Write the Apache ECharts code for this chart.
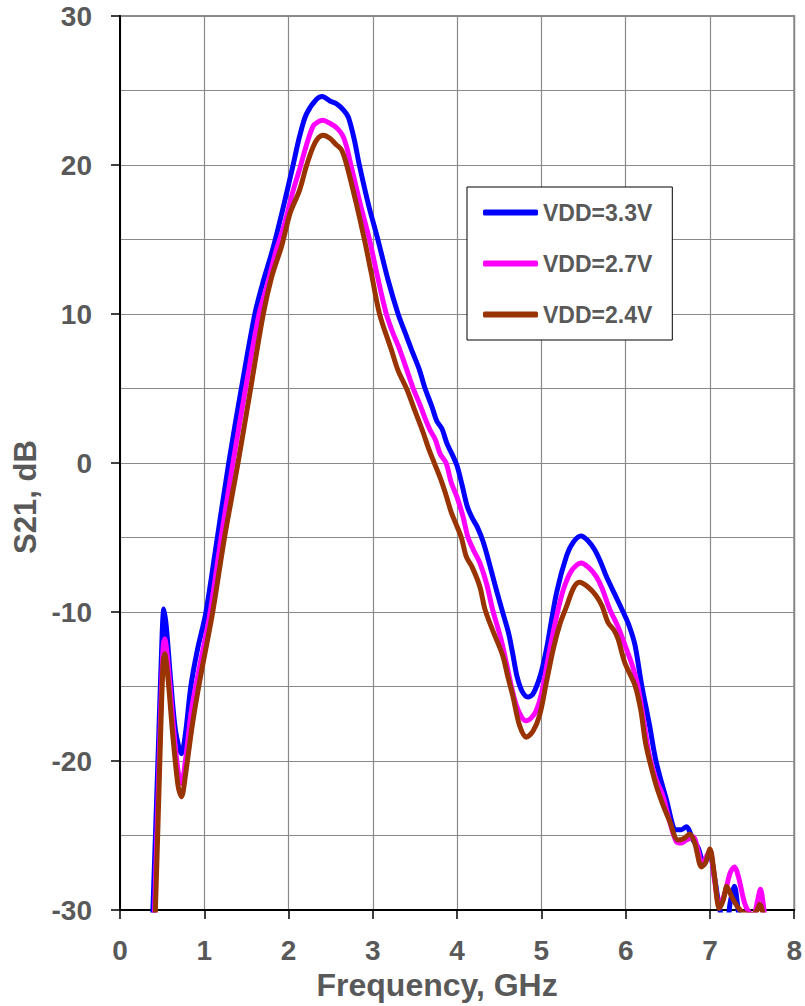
<!DOCTYPE html>
<html>
<head>
<meta charset="utf-8">
<script src="https://cdn.jsdelivr.net/npm/echarts@6/dist/echarts.min.js"></script>
<style>
  html, body { margin: 0; padding: 0; background: #fff; }
  #chart { width: 805px; height: 1006px; }
</style>
</head>
<body>
<div id="chart"></div>
<script type="text/javascript">
    // legend names
    var names = ['VDD=3.3V', 'VDD=2.7V', 'VDD=2.4V'];
    var colors = ['#0000FF', '#FF00FF', '#993300'];

    // VDD=3.3V
    var f33 = [0.36,0.39,0.45,0.50,0.52,0.55,0.60,0.66,0.73,0.78,
        0.84,0.92,1.02,1.155,1.29,1.44,1.60,1.70,1.81,1.93,
        2.05,2.13,2.21,2.33,2.40,2.49,2.57,2.65,2.71,2.78,
        2.84,2.95,3.06,3.18,3.30,3.38,3.46,3.55,3.62,3.70,
        3.76,3.82,3.88,3.94,4.00,4.06,4.12,4.18,4.24,4.31,
        4.39,4.47,4.54,4.61,4.66,4.71,4.77,4.84,4.90,4.99,
        5.06,5.18,5.30,5.38,5.47,5.55,5.63,5.70,5.77,5.87,
        5.97,6.04,6.11,6.19,6.28,6.36,6.48,6.60,6.66,6.72,
        6.80,6.86,6.92,6.97,7.00,7.06,7.13,7.20,7.24,7.29,
        7.34,7.40];
    var s33 = [-34,-30,-20,-11.5,-9.8,-11,-14.5,-18,-19.5,-18,
        -15,-12.5,-10,-5,0,5,10,12.2,14.3,17,
        19.9,21.9,23.4,24.4,24.6,24.3,24.1,23.7,23.2,21.7,
        20,17.3,15,12.3,10,8.8,7.6,6.3,5,3.8,
        2.8,2.3,1.3,0.6,-0.2,-1.5,-2.9,-3.7,-4.3,-5.3,
        -6.9,-8.6,-10,-11.4,-12.8,-14.3,-15.3,-15.7,-15.5,-14.2,
        -12.5,-8.7,-6.2,-5.3,-4.9,-5.2,-5.8,-6.6,-7.6,-8.8,
        -10,-10.9,-12.2,-14.9,-17.5,-20,-22.5,-24.6,-24.6,-24.4,
        -25.3,-25.8,-26.7,-26.5,-26.3,-28,-30.3,-31,-29.5,-28.4,
        -30.2,-32];

    // VDD=2.7V
    var f27 = [0.38,0.41,0.47,0.51,0.53,0.57,0.63,0.69,0.73,0.78,
        0.85,0.95,1.07,1.20,1.34,1.49,1.65,1.74,1.85,1.95,
        2.05,2.13,2.21,2.29,2.35,2.41,2.49,2.57,2.64,2.69,
        2.74,2.85,2.96,3.06,3.16,3.24,3.32,3.40,3.48,3.56,
        3.62,3.68,3.74,3.80,3.87,3.93,4.00,4.07,4.13,4.20,
        4.27,4.35,4.42,4.52,4.58,4.64,4.70,4.76,4.82,4.88,
        4.94,5.00,5.10,5.18,5.26,5.36,5.47,5.56,5.65,5.72,
        5.81,5.91,6.01,6.08,6.15,6.22,6.28,6.36,6.44,6.52,
        6.60,6.66,6.72,6.80,6.86,6.90,6.95,7.00,7.05,7.11,
        7.17,7.24,7.29,7.34,7.41,7.47,7.52,7.56,7.60,7.63,
        7.66];
    var s27 = [-34,-30,-19,-12.5,-11.8,-13.5,-17.5,-20.7,-21.5,-19.8,
        -16.5,-13.5,-10,-5,0,5,10,11.8,14.2,16.0,
        18.2,19.7,21.3,22.6,22.9,23.0,22.8,22.5,22.0,21.2,
        20,17.4,15,12.4,10,8.7,7.6,6.3,5,3.9,
        3.0,2.2,1.6,0.6,0,-1.3,-2.3,-3.6,-5,-5.9,
        -6.7,-8.1,-9.8,-11.8,-13.3,-14.9,-16.2,-17.0,-17.3,-17.1,
        -16.6,-15.5,-12.5,-10.3,-8.5,-7.2,-6.7,-7.0,-7.6,-8.4,
        -9.8,-11.0,-12.5,-13.6,-15.1,-17.5,-19.6,-21.2,-22.3,-24.0,
        -25.4,-25.5,-25.3,-25.1,-26.0,-27.0,-26.5,-26.0,-27.8,-29.6,
        -29.0,-27.5,-27.1,-27.8,-29.5,-30.2,-30.3,-29.5,-28.6,-29.5,
        -31];

    // VDD=2.4V
    var f24 = [0.39,0.42,0.47,0.51,0.53,0.57,0.63,0.69,0.73,0.78,
        0.86,0.95,1.10,1.24,1.40,1.55,1.70,1.80,1.92,2.02,
        2.13,2.21,2.29,2.35,2.41,2.49,2.56,2.63,2.69,2.80,
        2.90,2.98,3.08,3.22,3.30,3.40,3.50,3.60,3.66,3.73,
        3.80,3.86,3.93,3.98,4.05,4.11,4.18,4.27,4.33,4.42,
        4.54,4.60,4.66,4.74,4.82,4.90,4.98,5.06,5.14,5.22,
        5.30,5.38,5.45,5.55,5.65,5.72,5.79,5.86,5.91,5.99,
        6.11,6.18,6.24,6.36,6.44,6.52,6.62,6.69,6.76,6.82,
        6.90,6.95,7.00,7.05,7.11,7.16,7.20,7.25,7.33,7.40,
        7.50,7.56,7.59,7.62,7.65];
    var s24 = [-34,-30,-20.5,-13.5,-12.8,-14.5,-18.5,-21.7,-22.4,-20.8,
        -17.5,-14.5,-10,-5,0,5,10,12.5,14.6,16.8,
        18.3,19.9,21.2,21.8,22.0,21.8,21.4,21.0,20,17.5,
        15,12.8,10,7.6,6.2,5.0,3.5,2.0,1.0,0,
        -1.0,-2.0,-3.3,-4.0,-5.0,-6.3,-7.0,-8.3,-9.8,-11.2,
        -12.9,-14.3,-15.6,-17.6,-18.4,-18.0,-16.9,-14.7,-12.5,-10.8,
        -9.6,-8.4,-8.0,-8.3,-8.9,-9.6,-10.7,-11.2,-11.8,-13.4,
        -14.9,-16.6,-18.9,-21.6,-22.9,-24.0,-25.3,-25.2,-24.9,-25.5,
        -27.1,-26.8,-25.9,-27.5,-29.9,-29.3,-28.4,-29.0,-29.8,-30.2,
        -30.3,-30.0,-29.6,-30.0,-31];

    var freqs = [f33, f27, f24];
    var gains = [s33, s27, s24];

    var textColor = '#595959';
    var fontName = '"Liberation Sans", Arial, sans-serif';

    function pairs(xs, ys) {
        var out = [];
        for (var i = 0; i < xs.length; i++) out.push([xs[i], ys[i]]);
        return out;
    }

    var seriesList = [];
    for (var k = 0; k < names.length; k++) {
        seriesList.push({
            name: names[k],
            type: 'line',
            data: pairs(freqs[k], gains[k]),
            showSymbol: false,
            symbol: 'none',
            smooth: 0.3,
            clip: true,
            lineStyle: { color: colors[k], width: 5, cap: 'round', join: 'round' },
            itemStyle: { color: colors[k] }
        });
    }

    var myChart = echarts.init(document.getElementById('chart'), null, { renderer: 'svg' });
    var option = {
        animation: false,
        backgroundColor: '#fff',
        grid: {
            left: 120, right: 10, top: 16, bottom: 94,
            show: true,
            borderColor: '#8c8c8c',
            borderWidth: 2
        },
        legend: {
            data: names,
            orient: 'vertical',
            left: 467,
            top: 187,
            icon: 'roundRect',
            itemWidth: 55,
            itemHeight: 6,
            itemGap: 28,
            padding: [14, 20, 14, 16],
            borderColor: '#000',
            borderWidth: 1,
            backgroundColor: '#fff',
            textStyle: { color: textColor, fontSize: 23, fontWeight: 'bold', fontFamily: fontName }
        },
        xAxis: {
            type: 'value',
            min: 0, max: 8, interval: 1,
            name: 'Frequency, GHz',
            nameLocation: 'middle',
            nameGap: 48,
            nameTextStyle: { color: textColor, fontSize: 32, fontWeight: 'bold', fontFamily: fontName, padding: [0, 40, 0, 0] },
            axisLine: { onZero: false, lineStyle: { color: '#000', width: 2 } },
            axisTick: { show: true, inside: false, length: 9, lineStyle: { color: '#000', width: 1.5 } },
            axisLabel: { color: textColor, fontSize: 28, fontWeight: 'bold', fontFamily: fontName, margin: 26 },
            splitLine: { show: true, lineStyle: { color: '#8a8a8a', width: 1.2 } }
        },
        yAxis: {
            type: 'value',
            min: -30, max: 30, interval: 10,
            name: 'S21, dB',
            nameLocation: 'middle',
            nameGap: 77,
            nameTextStyle: { color: textColor, fontSize: 31, fontWeight: 'bold', fontFamily: fontName, padding: [0, 68, 0, 0] },
            axisLine: { onZero: false, lineStyle: { color: '#000', width: 2 } },
            axisTick: { show: true, inside: false, length: 9, lineStyle: { color: '#000', width: 1.5 } },
            axisLabel: { color: textColor, fontSize: 28, fontWeight: 'bold', fontFamily: fontName, margin: 28 },
            splitLine: { show: true, lineStyle: { color: '#8a8a8a', width: 1.2 } },
            minorTick: { show: false, splitNumber: 2 },
            minorSplitLine: { show: true, lineStyle: { color: '#8a8a8a', width: 1.2 } }
        },
        series: seriesList
    };

    myChart.setOption(option);
</script>
</body>
</html>
